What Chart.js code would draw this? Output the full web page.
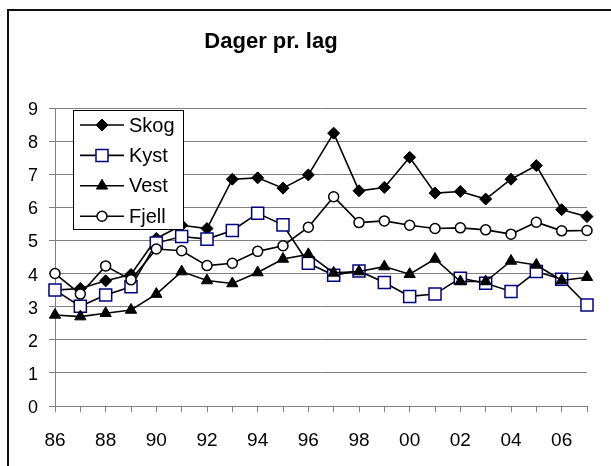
<!DOCTYPE html>
<html>
<head>
<meta charset="utf-8">
<script src="https://cdn.jsdelivr.net/npm/chart.js@4"></script>
<style>
  html, body { margin: 0; padding: 0; background: #fff; overflow: hidden; }
  canvas { display: block; }
</style>
</head>
<body>
<canvas id="c" width="611" height="466"></canvas>
<script>
// --- data ---
var chartTitle = 'Dager pr. lag';
var years = ['86','87','88','89','90','91','92','93','94','95','96',
             '97','98','99','00','01','02','03','04','05','06','07'];
var yTicks = [0, 1, 2, 3, 4, 5, 6, 7, 8, 9];

var skog  = [3.50, 3.55, 3.78, 3.97, 5.06, 5.46, 5.36, 6.85, 6.89, 6.58, 6.98,
             8.24, 6.50, 6.60, 7.51, 6.43, 6.48, 6.25, 6.85, 7.26, 5.93, 5.72];
var kyst  = [3.50, 3.01, 3.35, 3.60, 4.92, 5.12, 5.04, 5.30, 5.82, 5.47, 4.31,
             3.95, 4.08, 3.73, 3.31, 3.38, 3.86, 3.71, 3.46, 4.06, 3.83, 3.05];
var vest  = [2.75, 2.70, 2.80, 2.90, 3.38, 4.06, 3.79, 3.70, 4.03, 4.44, 4.58,
             4.02, 4.06, 4.21, 3.98, 4.44, 3.76, 3.76, 4.38, 4.26, 3.79, 3.89];
var fjell = [4.00, 3.38, 4.23, 3.81, 4.74, 4.69, 4.24, 4.31, 4.67, 4.84, 5.40,
             6.32, 5.54, 5.59, 5.46, 5.36, 5.38, 5.32, 5.19, 5.55, 5.29, 5.30];

var FONT = "'Liberation Sans', Arial, sans-serif";
var gridCol = '#808080';

// chart frame: only left and top edges are inside the picture
var framePlugin = {
  id: 'xlFrame',
  beforeDraw: function (chart) {
    var ctx = chart.ctx;
    ctx.save();
    ctx.fillStyle = '#111';
    ctx.fillRect(7, 9, 2, chart.height - 9);
    ctx.fillRect(7, 9, chart.width - 7, 2);
    ctx.restore();
  }
};

// title drawn at a fixed spot (Excel centres it over the whole chart frame)
var titlePlugin = {
  id: 'xlTitle',
  afterDraw: function (chart) {
    var ctx = chart.ctx;
    ctx.save();
    ctx.font = 'bold 22px ' + FONT;
    ctx.fillStyle = '#000';
    ctx.textAlign = 'center';
    ctx.textBaseline = 'alphabetic';
    ctx.fillText(chartTitle, 271, 48);
    ctx.restore();
  }
};

// Excel style legend: box with line + marker + label
var boxLegend = {
  id: 'boxLegend',
  afterDatasetsDraw: function (chart) {
    var ctx = chart.ctx, a = chart.chartArea;
    var x = a.left + 18, y = a.top + 2, w = 110, h = 119;
    ctx.save();
    ctx.fillStyle = '#fff';
    ctx.fillRect(x, y, w, h);
    ctx.strokeStyle = '#000';
    ctx.lineWidth = 1;
    ctx.strokeRect(x + 0.5, y + 0.5, w, h);
    chart.data.datasets.forEach(function (ds, i) {
      var cy = y + 15 + i * 30.4;
      ctx.strokeStyle = ds.borderColor;
      ctx.lineWidth = ds.borderWidth;
      ctx.beginPath();
      ctx.moveTo(x + 7, cy);
      ctx.lineTo(x + 51, cy);
      ctx.stroke();
      ctx.fillStyle = ds.pointBackgroundColor;
      ctx.strokeStyle = ds.pointBorderColor;
      ctx.lineWidth = ds.pointBorderWidth;
      Chart.helpers.drawPoint(ctx, {
        pointStyle: ds.pointStyle, radius: ds.pointRadius,
        borderWidth: ds.pointBorderWidth, rotation: 0
      }, x + 29, cy);
      ctx.fillStyle = '#000';
      ctx.font = '20px ' + FONT;
      ctx.textAlign = 'left';
      ctx.textBaseline = 'middle';
      ctx.fillText(ds.label, x + 56, cy + 1);
    });
    ctx.restore();
  }
};

function series(label, data, style, radius, fill, edge, bw, order) {
  return {
    label: label, data: data, order: order,
    borderColor: '#000', borderWidth: 1.6, tension: 0, fill: false, clip: false,
    pointStyle: style, pointRadius: radius, pointHoverRadius: radius,
    pointBackgroundColor: fill, pointBorderColor: edge, pointBorderWidth: bw
  };
}

new Chart(document.getElementById('c'), {
  type: 'line',
  data: {
    labels: years,
    datasets: [
      series('Skog',  skog,  'rectRot',  6,   '#000', '#000',    1,   4),
      series('Kyst',  kyst,  'rect',     8.5, '#fff', '#000080', 1.5, 3),
      series('Vest',  vest,  'triangle', 6.5, '#000', '#000',    1,   2),
      series('Fjell', fjell, 'circle',   5,   '#fff', '#000',    1.5, 1)
    ]
  },
  options: {
    responsive: false,
    animation: false,
    devicePixelRatio: 1,
    layout: { padding: { top: 108, right: 24, bottom: 0, left: 0 } },
    plugins: { legend: { display: false }, title: { display: false }, tooltip: { enabled: false } },
    scales: {
      x: {
        offset: false,
        grid: { display: true, drawOnChartArea: false, drawTicks: true, tickLength: 6, color: gridCol, lineWidth: 1 },
        border: { display: true, color: gridCol, width: 1 },
        ticks: {
          autoSkip: false, maxRotation: 0, padding: 17,
          color: '#000', font: { family: FONT, size: 19 },
          callback: function (v, i) { return i % 2 === 0 ? years[i] : ''; }
        },
        afterFit: function (s) { s.height = 60; }
      },
      y: {
        min: 0, max: 9,
        afterBuildTicks: function (s) { s.ticks = yTicks.map(function (v) { return { value: v }; }); },
        grid: { color: gridCol, lineWidth: 1, tickLength: 6 },
        border: { display: true, color: gridCol, width: 1 },
        ticks: { padding: 11, labelOffset: 2, color: '#000', font: { family: FONT, size: 18 } },
        afterFit: function (s) { s.width = 55; }
      }
    }
  },
  plugins: [framePlugin, boxLegend, titlePlugin]
});
</script>
</body>
</html>
